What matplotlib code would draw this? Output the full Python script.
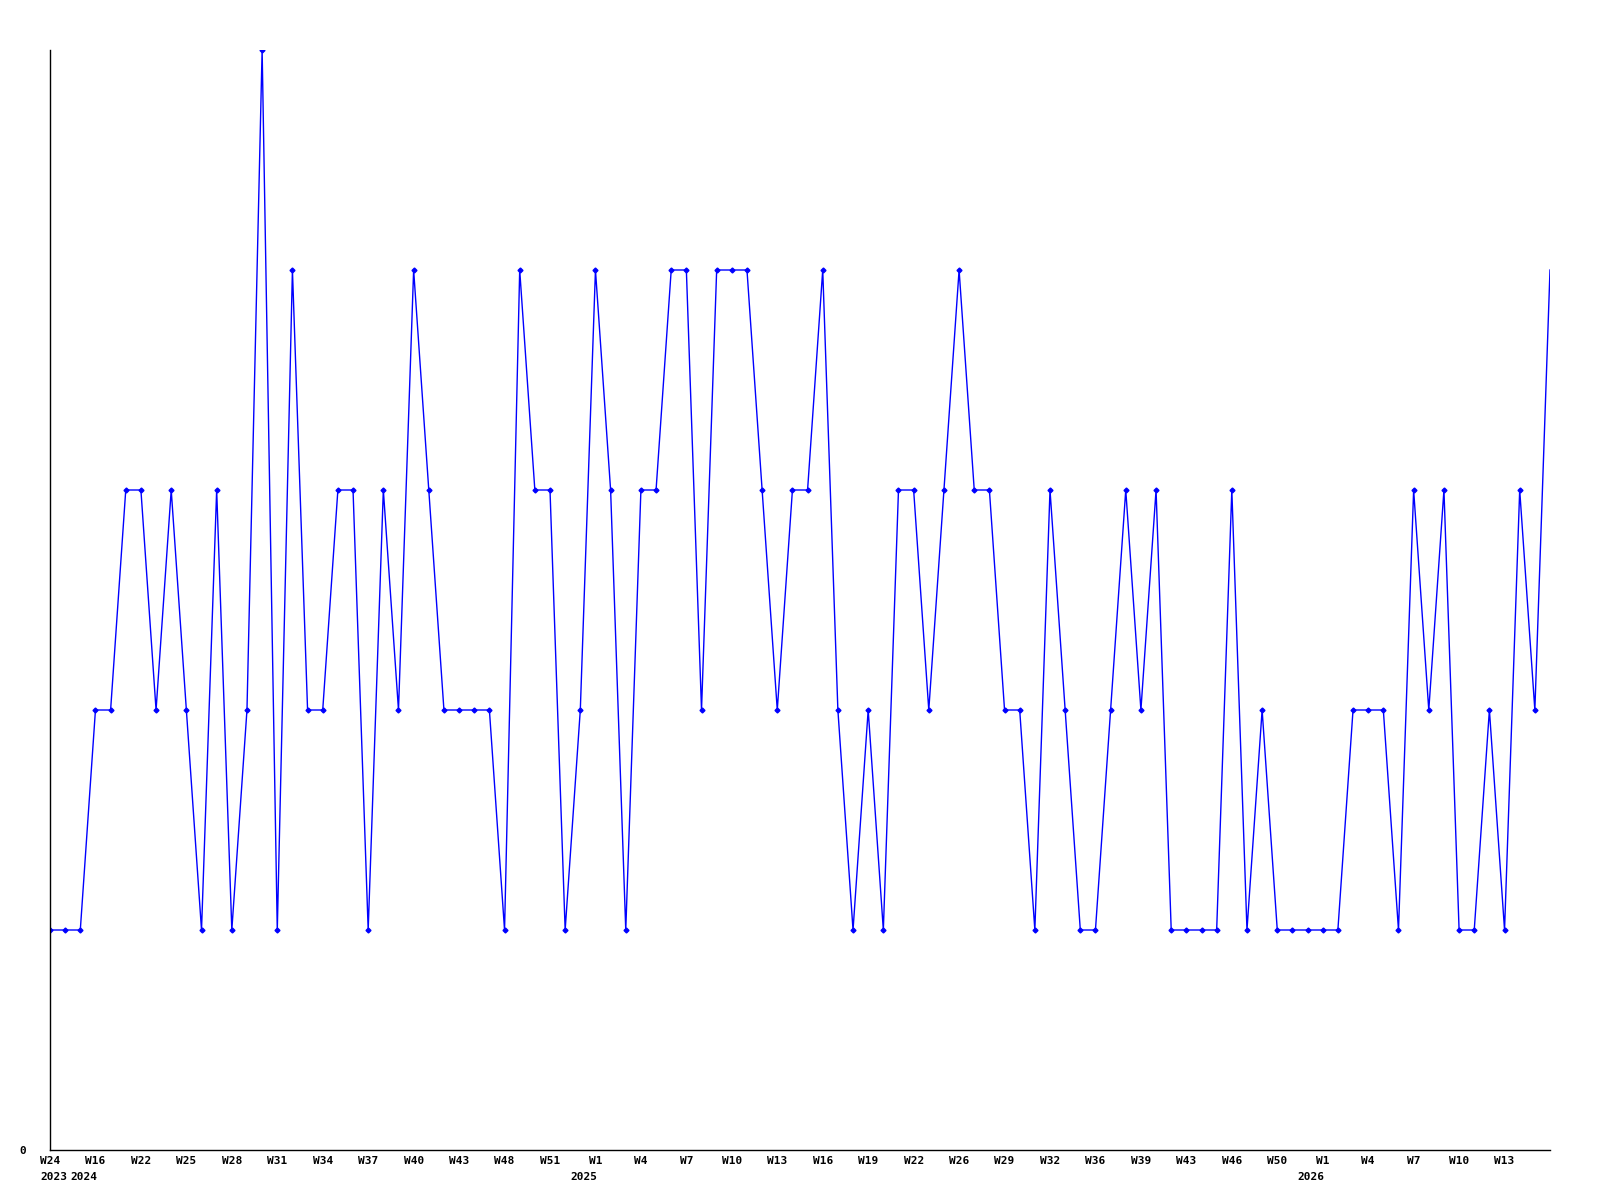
import matplotlib
matplotlib.use('Agg')
import matplotlib.pyplot as plt
import matplotlib.transforms as mtransforms

# weekly values, one point per sample (sequential index on x)
values = [1, 1, 1, 2, 2, 3, 3, 2, 3, 2,
          1, 3, 1, 2, 5, 1, 4, 2, 2, 3,
          3, 1, 3, 2, 4, 3, 2, 2, 2, 2,
          1, 4, 3, 3, 1, 2, 4, 3, 1, 3,
          3, 4, 4, 2, 4, 4, 4, 3, 2, 3,
          3, 4, 2, 1, 2, 1, 3, 3, 2, 3,
          4, 3, 3, 2, 2, 1, 3, 2, 1, 1,
          2, 3, 2, 3, 1, 1, 1, 1, 3, 1,
          2, 1, 1, 1, 1, 1, 2, 2, 2, 1,
          3, 2, 3, 1, 1, 2, 1, 3, 2, 4]

tick_pos = list(range(0, 99, 3))
tick_labels = ['W24', 'W16', 'W22', 'W25', 'W28', 'W31', 'W34', 'W37', 'W40', 'W43',
               'W48', 'W51', 'W1', 'W4', 'W7', 'W10', 'W13', 'W16', 'W19', 'W22',
               'W26', 'W29', 'W32', 'W36', 'W39', 'W43', 'W46', 'W50', 'W1', 'W4',
               'W7', 'W10', 'W13']
year_pos = [0, 3, 36, 84]
year_labels = ['2023', '2024', '2025', '2026']

font = dict(family='DejaVu Sans Mono', fontweight='bold', fontsize=8)

fig = plt.figure(figsize=(16, 12), dpi=100)
ax = fig.add_axes([50 / 1600, 50 / 1200, 1500 / 1600, 1100 / 1200])

x = list(range(len(values)))
ax.plot(x, values, color='#0000ff', lw=1.0, marker='D', markersize=2.5,
        markevery=list(range(len(values) - 1)))

ax.set_xlim(0, len(values) - 1)
ax.set_ylim(0, 5)

for s in ['top', 'right']:
    ax.spines[s].set_visible(False)
for s in ['left', 'bottom']:
    ax.spines[s].set_linewidth(1.0)
    ax.spines[s].set_color('black')

ax.set_xticks(tick_pos)
ax.set_xticklabels(tick_labels, **font)
ax.tick_params(axis='x', length=0, pad=4)
ax.set_yticks([0])
ax.set_yticklabels(['0'], **font)
ax.tick_params(axis='y', length=0, pad=17)

# year labels under the week labels
for i, (p, lab) in enumerate(zip(year_pos, year_labels)):
    if i == 0:
        off = mtransforms.offset_copy(ax.get_xaxis_transform(), fig=fig, x=-10, y=-22, units='dots')
        ax.text(p, 0, lab, transform=off, ha='left', va='top', **font)
    else:
        off = mtransforms.offset_copy(ax.get_xaxis_transform(), fig=fig, x=2, y=-22, units='dots')
        ax.text(p, 0, lab, transform=off, ha='right', va='top', **font)

fig.savefig('out.png', dpi=100)
